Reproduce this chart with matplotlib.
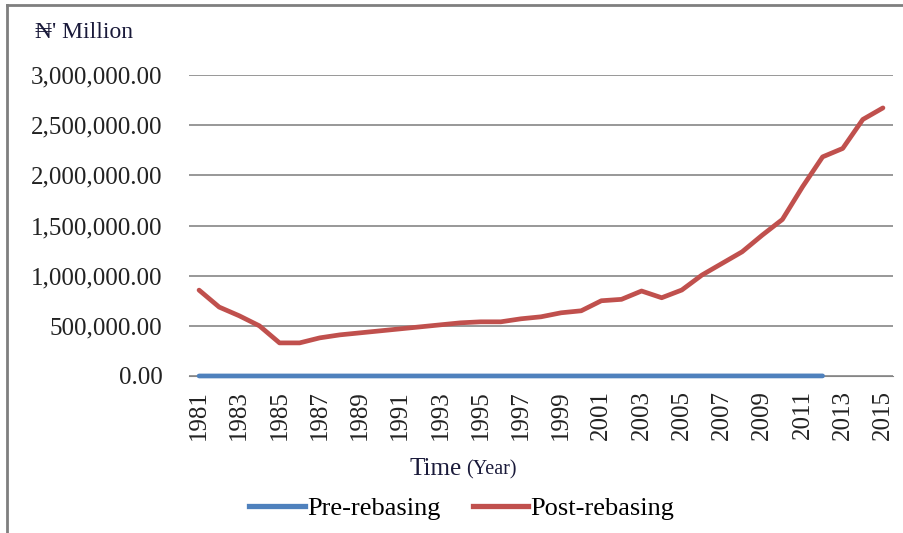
import matplotlib
matplotlib.use("Agg")
import matplotlib.pyplot as plt
from matplotlib.lines import Line2D
from matplotlib.ticker import FuncFormatter

plt.rcParams['font.family'] = ['Liberation Serif', 'DejaVu Serif']

years = list(range(1981, 2016))
# pre-rebasing series (N' billion, 1990 prices) - sits on the zero line at this scale
pre_years = list(range(1981, 2013))
pre = [251, 246, 230, 227, 253, 257, 249, 270, 286, 267, 265, 271, 274, 275, 281,
       293, 302, 310, 312, 329, 356, 433, 477, 527, 561, 595, 634, 672, 718, 776,
       834, 888]
post = [856000, 687000, 600000, 500000, 330000, 330000, 380000, 410000, 430000,
        450000, 470000, 490000, 510000, 530000, 540000, 540000, 570000, 590000,
        630000, 650000, 750000, 764000, 847000, 780000, 857000, 1006000, 1122000,
        1238000, 1404000, 1560000, 1885000, 2184000, 2268000, 2557000, 2672000]

blue = '#4F81BD'
red = '#C0504D'
grid_c = '#868686'

fig = plt.figure(figsize=(9.04, 5.33), dpi=100)
ax = fig.add_axes([189/904, 157/533, 704/904, 301/533])

x_post = [y - 1981 for y in years]
x_pre = [y - 1981 for y in pre_years]
ax.plot(x_pre, pre, color=blue, lw=3.4, solid_capstyle='round', zorder=4,
        clip_on=False)
ax.plot(x_post, post, color=red, lw=3.4, solid_capstyle='round', zorder=3)

ax.set_xlim(-0.5, 34.5)
ax.set_ylim(0, 3000000)
ax.set_yticks(range(0, 3000001, 500000))
ax.yaxis.set_major_formatter(FuncFormatter(lambda v, p: f"{v:,.2f}"))
ax.grid(axis='y', color=grid_c, lw=1.2)
ax.set_axisbelow(True)

ax.set_xticks(x_post[::2])
ax.set_xticklabels([str(y) for y in years[::2]], rotation=90)
ax.tick_params(axis='y', length=0, pad=19, labelsize=18, colors='#222222')
ax.tick_params(axis='x', length=0, pad=10, labelsize=18, colors='#222222')
for s in ['top', 'right', 'left']:
    ax.spines[s].set_visible(False)
ax.spines['bottom'].set_color(grid_c)

fig.text(35/904, 1 - 32/533, "\u20a6' Million", fontsize=17, color='#1a1a3a',
         va='center', ha='left')
fig.text(410/904, 1 - 469/533, "Time", fontsize=18, color='#1a1a3a',
         va='center', ha='left')
fig.text(466/904, 1 - 470/533, "(Year)", fontsize=14.5, color='#1a1a3a',
         va='center', ha='left')

handles = [Line2D([], [], color=blue, lw=3.8), Line2D([], [], color=red, lw=3.8)]
fig.legend(handles, ['Pre-rebasing', 'Post-rebasing'], loc='center',
           bbox_to_anchor=(462/904, 1 - 508/533), ncol=2, frameon=False,
           fontsize=19, handlelength=2.1, handletextpad=0.1, columnspacing=1.2)

# chart area frame (top and left edges only visible)
fig.add_artist(Line2D([7/904, 1], [1 - 5/533, 1 - 5/533], color='#7f7f7f', lw=2))
fig.add_artist(Line2D([7/904, 7/904], [0, 1 - 5/533], color='#7f7f7f', lw=2))

fig.savefig('out.png', dpi=100)
